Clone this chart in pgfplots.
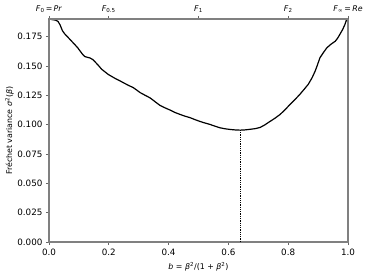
\documentclass[border=0pt]{standalone}
\usepackage{pgfplots}
\pgfplotsset{compat=1.18}
\usepackage{fontspec}
\setmainfont{DejaVu Sans}
\pgfplotstableread{
b v
0.000 0.1900
0.010 0.1895
0.022 0.1890
0.030 0.1880
0.037 0.1850
0.045 0.1800
0.052 0.1775
0.065 0.1740
0.076 0.1710
0.087 0.1680
0.096 0.1655
0.104 0.1627
0.112 0.1600
0.120 0.1580
0.128 0.1574
0.137 0.1568
0.146 0.1555
0.154 0.1535
0.165 0.1505
0.176 0.1472
0.187 0.1450
0.198 0.1428
0.210 0.1410
0.221 0.1394
0.238 0.1372
0.254 0.1350
0.268 0.1332
0.282 0.1315
0.293 0.1295
0.304 0.1274
0.320 0.1252
0.338 0.1228
0.355 0.1195
0.371 0.1164
0.388 0.1143
0.405 0.1124
0.420 0.1105
0.438 0.1087
0.455 0.1072
0.472 0.1059
0.488 0.1043
0.505 0.1027
0.520 0.1015
0.538 0.1002
0.555 0.0987
0.572 0.0973
0.588 0.0965
0.605 0.0959
0.622 0.0955
0.639 0.0953
0.655 0.0955
0.672 0.0960
0.690 0.0966
0.706 0.0976
0.722 0.0998
0.739 0.1027
0.756 0.1055
0.773 0.1087
0.790 0.1128
0.806 0.1172
0.822 0.1212
0.839 0.1258
0.853 0.1300
0.867 0.1343
0.880 0.1400
0.890 0.1455
0.898 0.1510
0.906 0.1569
0.918 0.1615
0.929 0.1654
0.943 0.1685
0.957 0.1710
0.965 0.1735
0.973 0.1770
0.982 0.1810
0.990 0.1855
0.996 0.1900
}\curve
\begin{document}
\begin{tikzpicture}[font=\fontsize{8.8}{10.5}\selectfont]
\useasboundingbox (-49bp,-34bp) rectangle (321bp,242bp);
\begin{axis}[
  at={(0,0)}, anchor=south west,
  scale only axis, width=299bp, height=223bp,
  xmin=0, xmax=1, ymin=0, ymax=0.19,
  xtick={0,0.2,0.4,0.6,0.8,1.0},
  ytick={0,0.025,0.05,0.075,0.1,0.125,0.15,0.175},
  xtick pos=bottom, ytick pos=left,
  tick align=outside,
  major tick length=3bp,
  every tick/.style={gray!80!black, line width=0.7pt},
  axis line style={gray, line width=1.4pt},
  xticklabel style={/pgf/number format/.cd, fixed, fixed zerofill, precision=1},
  yticklabel style={/pgf/number format/.cd, fixed, fixed zerofill, precision=3},
  /pgf/number format/assume math mode=true,
  tick label style={font=\fontsize{8.8}{10.5}\selectfont},
  xlabel={\textit{b} = \textit{β}\textsuperscript{2}/(1 + \textit{β}\textsuperscript{2})},
  ylabel={Fréchet variance \textit{σ}\textsuperscript{2}(\textit{β})},
  every axis x label/.style={at={(axis description cs:0.5,0)}, anchor=north, yshift=-20bp, inner sep=0pt, font=\fontsize{7.9}{9.5}\selectfont},
  every axis y label/.style={at={(axis description cs:0,0.5)}, rotate=90, anchor=south, yshift=35bp, inner sep=0pt, font=\fontsize{7.9}{9.5}\selectfont},
  clip=false,
]
\addplot[black, line width=1.2pt] table[x=b, y=v] {\curve};
\addplot[black, line width=0.8pt, densely dotted] coordinates {(0.64,0) (0.64,0.0953)};
\end{axis}
\begin{axis}[
  at={(0,0)}, anchor=south west,
  scale only axis, width=299bp, height=223bp,
  xmin=0, xmax=1, ymin=0, ymax=0.19,
  axis x line*=top, hide y axis,
  xtick={0,0.2,0.5,0.8,1},
  xticklabels={{\textit{F}\textsubscript{0}\,=\,\textit{Pr}},{\textit{F}\textsubscript{0.5}},{\textit{F}\textsubscript{1}},{\textit{F}\textsubscript{2}},{\textit{F}\textsubscript{∞}\,=\,\textit{Re}}},
  tick align=outside,
  major tick length=3bp,
  every tick/.style={gray!80!black, line width=0.7pt},
  axis line style={gray, line width=1.4pt},
  tick label style={font=\fontsize{7.9}{9.5}\selectfont},
]
\end{axis}
\end{tikzpicture}
\end{document}
